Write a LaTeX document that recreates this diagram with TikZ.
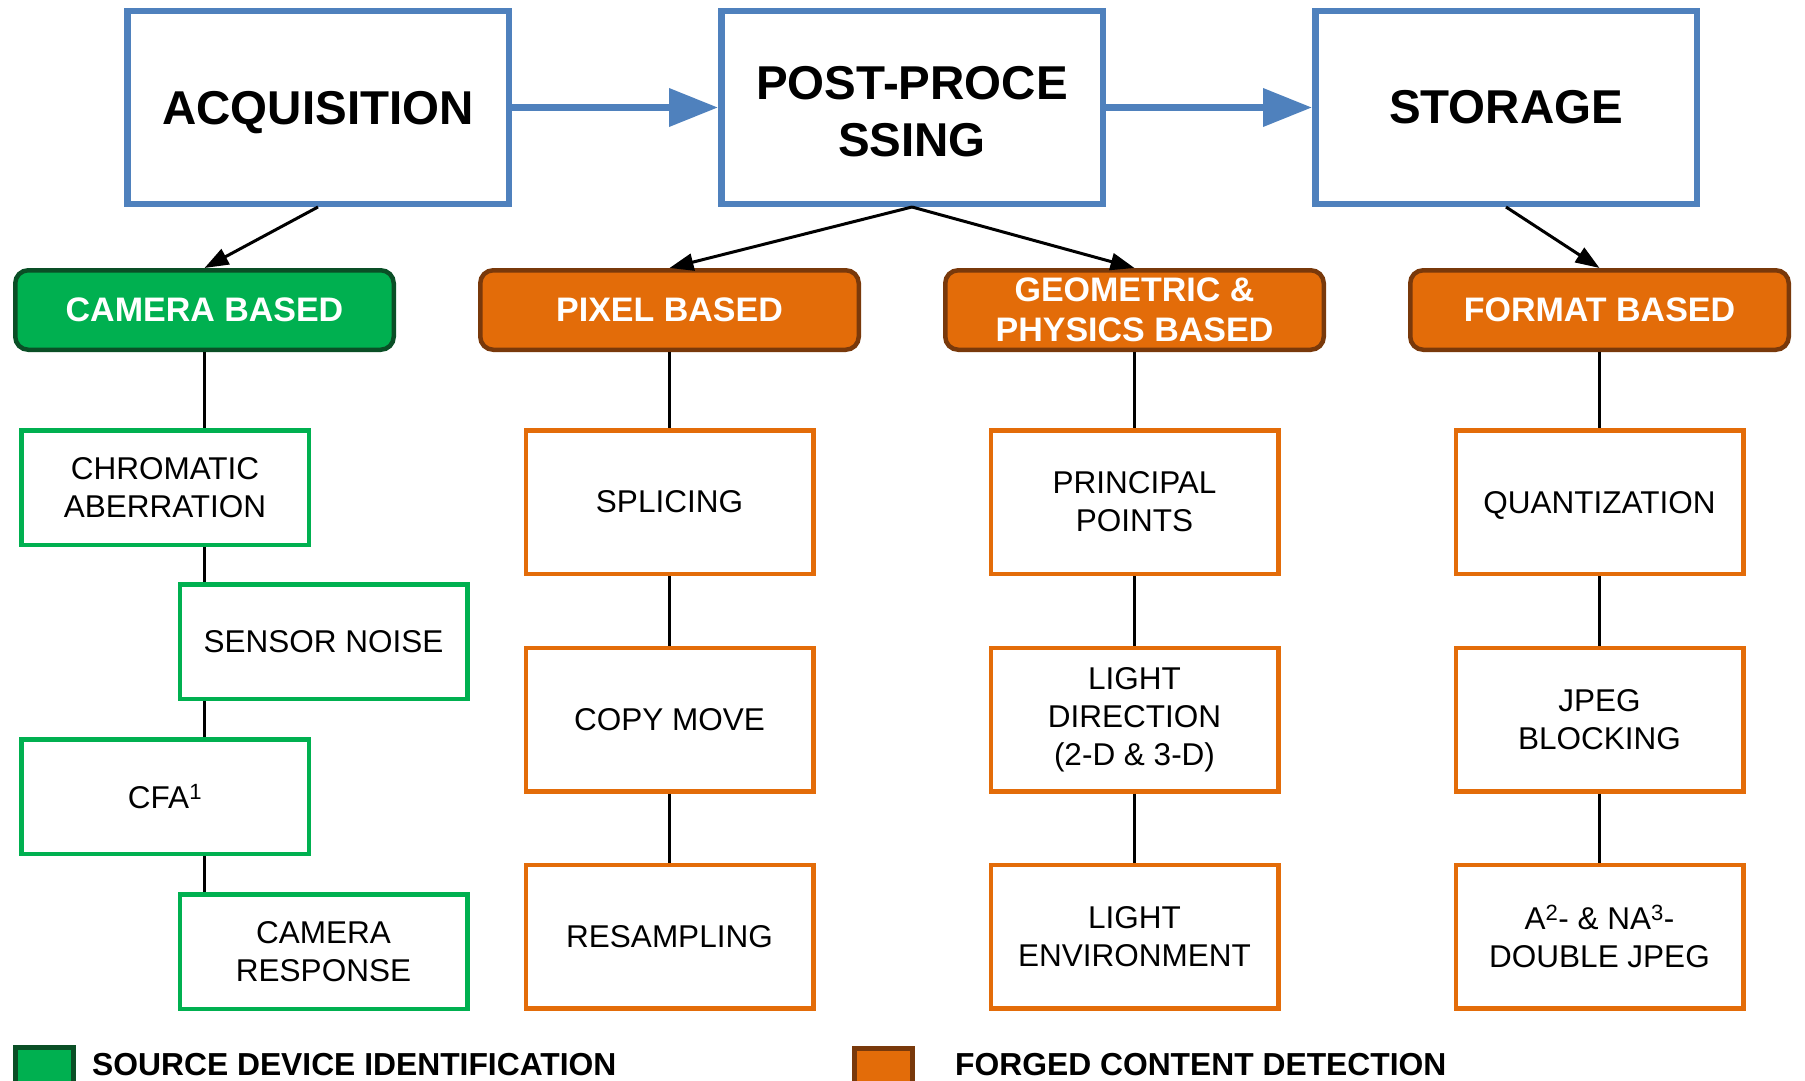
\documentclass[tikz,border=0pt]{standalone}
\usepackage{fontspec}
\setmainfont{Liberation Sans}
\usetikzlibrary{arrows.meta}
\definecolor{bblue}{HTML}{4F81BD}
\definecolor{gfill}{HTML}{00B050}
\definecolor{gdark}{HTML}{0A4F26}
\definecolor{ofill}{HTML}{E36C09}
\definecolor{obrown}{HTML}{79390B}
\begin{document}
\begin{tikzpicture}[x=1pt,y=-1pt,
  topbox/.style={draw=bblue, line width=6.5pt, fill=white, minimum width=381.5pt, minimum height=192.5pt, inner sep=0pt, align=center, font=\fontsize{47.5}{57.5}\selectfont\bfseries},
  catbox/.style={rounded corners=13pt, line width=4.5pt, minimum width=378.5pt, minimum height=79.5pt, inner sep=0pt, align=center, text=white, font=\fontsize{34}{40}\selectfont\bfseries},
  catg/.style={catbox, draw=gdark, fill=gfill},
  cato/.style={catbox, draw=obrown, fill=ofill},
  leafbox/.style={draw, fill=white, line width=4.5pt, minimum width=287.5pt, inner sep=0pt, align=center, font=\fontsize{31.5}{38}\selectfont},
  leafg/.style={leafbox, draw=gfill, minimum height=114.5pt},
  leafo/.style={leafbox, draw=ofill, minimum height=143.5pt},
  conn/.style={line width=3pt},
  arr/.style={conn, -{Triangle[length=24pt,width=17pt]}},
  barr/.style={draw=bblue, line width=7pt, -{Triangle[length=49pt,width=37pt]}},
  legtext/.style={anchor=base west, inner sep=0pt, font=\fontsize{31.8}{38}\selectfont\bfseries}
]
\clip (0,0) rectangle (1805,1081);
\fill[white] (0,0) rectangle (1805,1081);

% top stages
\node[topbox, text depth=0pt] (acq) at (318,107.5) {ACQUISITION};
\node[topbox] (post) at (912,107.5) {\rule{0pt}{41pt}POST-PROCE\\SSING};
\node[topbox] (stor) at (1506,107.5) {STORAGE};

% categories
\node[catg] (cam) at (204.5,310) {CAMERA BASED};
\node[cato] (pix) at (669.5,310) {PIXEL BASED};
\node[cato] (geo) at (1134.5,310) {GEOMETRIC \&\\PHYSICS BASED};
\node[cato] (fmt) at (1599.5,310) {FORMAT BASED};

% camera leaves
\node[leafg] (chrom) at (165,487.5) {CHROMATIC\\ABERRATION};
\node[leafg] (sensor) at (323.5,641.5) {SENSOR NOISE};
\node[leafg] (cfa) at (165,796.5) {CFA\textsuperscript{1}};
\node[leafg] (camresp) at (323.5,951.5) {CAMERA\\RESPONSE};

% pixel leaves
\node[leafo] (splice) at (669.5,502) {SPLICING};
\node[leafo] (copy) at (669.5,719.5) {COPY MOVE};
\node[leafo] (resamp) at (669.5,936.5) {RESAMPLING};

% geometric leaves
\node[leafo] (princ) at (1134.5,502) {PRINCIPAL\\POINTS};
\node[leafo] (ldir) at (1134.5,719.5) {LIGHT\\DIRECTION\\(2-D \& 3-D)};
\node[leafo] (lenv) at (1134.5,936.5) {LIGHT\\ENVIRONMENT};

% format leaves
\node[leafo, text depth=0pt] (quant) at (1599.5,502) {QUANTIZATION};
\node[leafo] (jpeg) at (1599.5,719.5) {JPEG\\BLOCKING};
\node[leafo] (djpeg) at (1599.5,936.5) {A\textsuperscript{2}- \& NA\textsuperscript{3}-\\DOUBLE JPEG};

% blue flow arrows
\draw[barr] (acq.east) -- (post.west);
\draw[barr] (post.east) -- (stor.west);

% black arrows
\draw[arr] (acq.south) -- (cam.north);
\draw[arr] (post.south) -- (pix.north);
\draw[arr] (post.south) -- (geo.north);
\draw[arr] (stor.south) -- (fmt.north);

% camera column connectors
\draw[conn] (cam.south) -- (cam.south |- chrom.north);
\draw[conn] (cam.south |- chrom.south) -- (cam.south |- sensor.north);
\draw[conn] (cam.south |- sensor.south) -- (cam.south |- cfa.north);
\draw[conn] (cam.south |- cfa.south) -- (cam.south |- camresp.north);

% forged columns connectors
\draw[conn] (pix.south) -- (splice.north);
\draw[conn] (splice.south) -- (copy.north);
\draw[conn] (copy.south) -- (resamp.north);
\draw[conn] (geo.south) -- (princ.north);
\draw[conn] (princ.south) -- (ldir.north);
\draw[conn] (ldir.south) -- (lenv.north);
\draw[conn] (fmt.south) -- (quant.north);
\draw[conn] (quant.south) -- (jpeg.north);
\draw[conn] (jpeg.south) -- (djpeg.north);

% legend
\node[draw=gdark, fill=gfill, line width=5pt, minimum width=58pt, minimum height=60pt, inner sep=0pt] (lgg) at (44.5,1077.5) {};
\node[legtext] (lgt) at (92,1075) {SOURCE DEVICE IDENTIFICATION};
\node[draw=obrown, fill=ofill, line width=5pt, minimum width=58pt, minimum height=60pt, inner sep=0pt] (lgo) at (883.5,1078.5) {};
\node[legtext] (lot) at (955,1075) {FORGED CONTENT DETECTION};
\end{tikzpicture}
\end{document}
